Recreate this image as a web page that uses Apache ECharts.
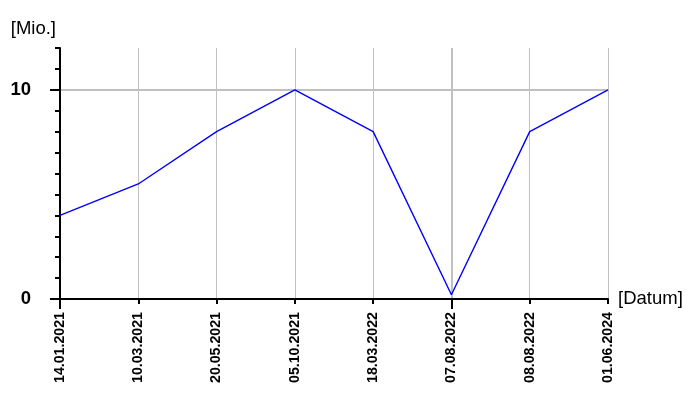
<!DOCTYPE html>
<html>
<head>
<meta charset="utf-8">
<script src="https://cdn.jsdelivr.net/npm/echarts@6/dist/echarts.min.js"></script>
<style>html,body{margin:0;padding:0;background:#fff}#c{width:700px;height:400px}</style>
</head>
<body>
<div id="c"></div>
<script>
var categories = ['14.01.2021','10.03.2021','20.05.2021','05.10.2021','18.03.2022','07.08.2022','08.08.2022','01.06.2024'];
var values = [4, 5.5, 8, 10, 8, 0.2, 8, 10];
var yLabelValues = [0, 10];
var majorCatIdx = [0, 5];

var FONT = "'Liberation Sans', Arial, sans-serif";
var chart = echarts.init(document.getElementById('c'), null, {renderer: 'canvas'});
chart.setOption({
  animation: false,
  backgroundColor: '#fff',
  grid: {left: 60, right: 92, top: 48, bottom: 101, containLabel: false},
  xAxis: [{
    type: 'category', data: categories, boundaryGap: false,
    name: '[Datum]', nameLocation: 'end', nameGap: 10,
    nameTextStyle: {color: '#000', fontSize: 18.5, fontFamily: FONT},
    axisLine: {lineStyle: {color: '#000', width: 2}},
    axisTick: {show: true, length: 5, interval: 0, lineStyle: {color: '#000', width: 2}},
    axisLabel: {rotate: 90, margin: 13, interval: 0, color: '#000', fontSize: 14.2, fontWeight: 'bold', fontFamily: FONT},
    splitLine: {show: true, interval: 0, lineStyle: {color: '#c0c0c0', width: 1}}
  }, {
    type: 'category', data: categories, boundaryGap: false, position: 'bottom',
    axisLine: {show: false},
    axisTick: {show: true, length: 10, interval: function (i) { return majorCatIdx.indexOf(i) >= 0; }, lineStyle: {color: '#000', width: 2}},
    axisLabel: {show: false},
    splitLine: {show: true, interval: function (i) { return i === 5; }, lineStyle: {color: '#c0c0c0', width: 2}}
  }],
  yAxis: [{
    type: 'value', min: 0, max: 12, interval: 1,
    name: '[Mio.]', nameLocation: 'end', nameGap: 10,
    nameTextStyle: {color: '#000', fontSize: 18.5, fontFamily: FONT, align: 'right', padding: [0, 4, 0, 0]},
    axisLine: {show: true, lineStyle: {color: '#000', width: 2}},
    axisTick: {show: true, length: 5, lineStyle: {color: '#000', width: 2}},
    axisLabel: {show: false},
    splitLine: {show: false}
  }, {
    type: 'value', min: 0, max: 12, position: 'left',
    axisLine: {show: false},
    axisTick: {show: true, length: 10, customValues: yLabelValues, lineStyle: {color: '#000', width: 2}},
    axisLabel: {show: true, customValues: yLabelValues, margin: 29, color: '#000', fontSize: 18.5, fontWeight: 'bold', fontFamily: FONT},
    splitLine: {show: false}
  }],
  series: [{
    type: 'line', data: values, xAxisIndex: 0, yAxisIndex: 0,
    symbol: 'none', lineStyle: {color: '#0000ff', width: 1.4},
    markLine: {
      silent: true, symbol: 'none', label: {show: false},
      lineStyle: {color: '#c0c0c0', width: 2, type: 'solid'},
      data: [{yAxis: 10}],
      z: 0
    }
  }]
});
</script>
</body>
</html>
